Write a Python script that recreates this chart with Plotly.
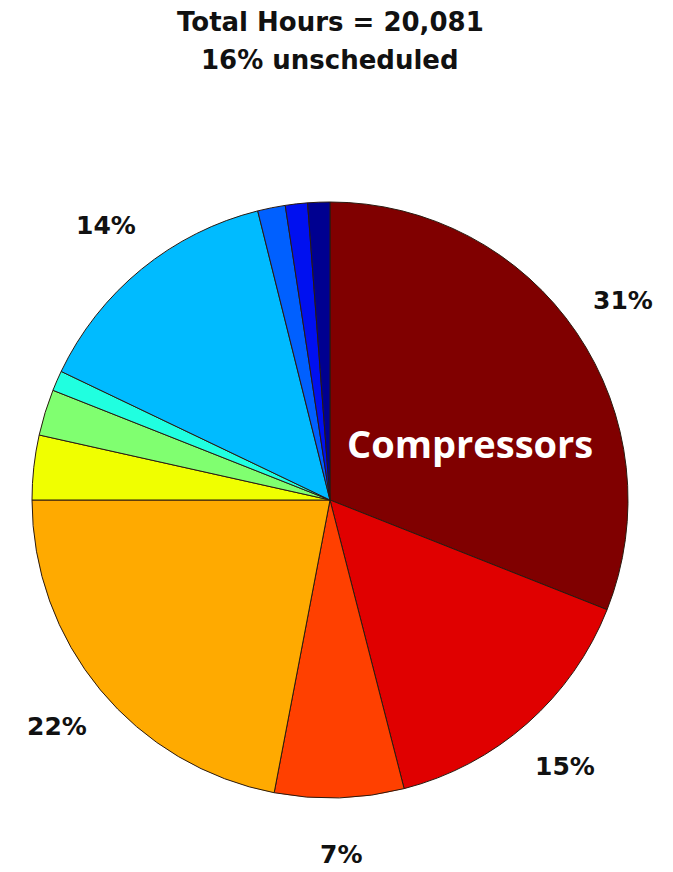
import math
import plotly.graph_objects as go

# Share of total maintenance hours per equipment category (percent)
categories = [
    "Compressors", "Category 2", "Category 3", "Category 4", "Category 5",
    "Category 6", "Category 7", "Category 8", "Category 9", "Category 10",
    "Category 11",
]
shares = [31, 15, 7, 22, 3.5, 2.5, 1.1, 14, 1.5, 1.2, 1.2]
slice_colors = [
    "#800000", "#E00000", "#FF4000", "#FFAA00", "#F0FF00",
    "#80FF70", "#20FFE0", "#00BBFF", "#0060FF", "#0010F0", "#000090",
]
# Percent labels shown outside the pie (empty = unlabeled slice)
outside_labels = ["31%", "15%", "7%", "22%", "", "", "", "14%", "", "", ""]

title_lines = ["Total Hours = 20,081", "16% unscheduled"]

W, H = 673, 872
margin = dict(l=32, r=45, t=202, b=74)

fig = go.Figure(
    go.Pie(
        labels=categories,
        values=shares,
        sort=False,
        direction="clockwise",
        rotation=0,
        textinfo="none",
        hoverinfo="label+percent",
        marker=dict(colors=slice_colors, line=dict(color="#2a1a10", width=1)),
        showlegend=False,
    )
)

# Place the outside labels at the middle angle of each slice
total = sum(shares)
annotations = []
cum = 0.0
label_font = dict(family="DejaVu Sans", size=25, color="#111111")
for val, lab in zip(shares, outside_labels):
    mid = (cum + val / 2) / total * 2 * math.pi
    cum += val
    if not lab:
        continue
    f = 1.19
    annotations.append(dict(
        x=0.5 + 0.5 * f * math.sin(mid),
        y=0.5 + 0.5 * f * math.cos(mid),
        xref="paper", yref="paper",
        text=f"<b>{lab}</b>", showarrow=False,
        xanchor="center", yanchor="middle", font=label_font,
    ))

# Category name inside the largest slice
annotations.append(dict(
    x=0.735, y=0.596, xref="paper", yref="paper",
    text="<b>Compressors</b>", showarrow=False,
    xanchor="center", yanchor="middle",
    font=dict(family="Open Sans", size=38, color="white"),
))

# Two-line heading
for i, line in enumerate(title_lines):
    annotations.append(dict(
        x=0.5, y=1 + (180 - 38 * i) / 596, xref="paper", yref="paper",
        text=f"<b>{line}</b>", showarrow=False,
        xanchor="center", yanchor="middle",
        font=dict(family="DejaVu Sans", size=26, color="#111111"),
    ))

fig.update_layout(
    width=W, height=H,
    margin=margin,
    paper_bgcolor="white",
    plot_bgcolor="white",
    annotations=annotations,
)

fig.write_html("out.html")
